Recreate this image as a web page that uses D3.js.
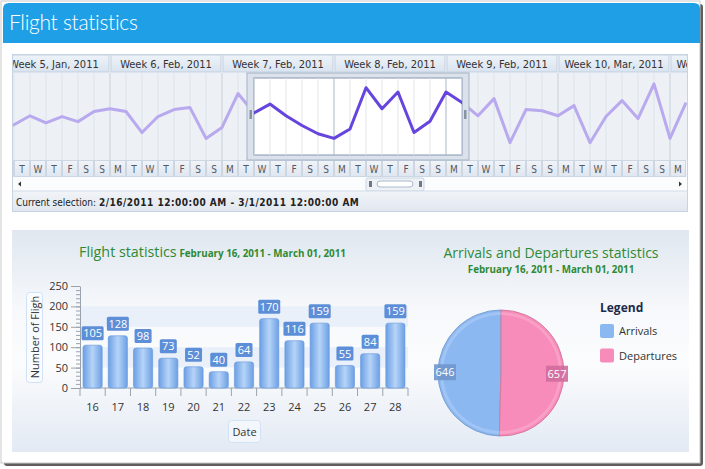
<!DOCTYPE html>
<html>
<head>
<meta charset="utf-8">
<script src="https://cdn.jsdelivr.net/npm/d3@7"></script>
<style>
  body { margin: 0; background: #fff; }
  svg { display: block; }
  .tl { font-family: "DejaVu Sans Condensed", "DejaVu Sans", sans-serif; }
  .ui { font-family: "Open Sans", "Noto Sans", sans-serif; }
</style>
</head>
<body>
<svg id="chart" width="705" height="469"></svg>
<script>
// ---- data ----
const weekLabels = ["Week 5, Jan, 2011", "Week 6, Feb, 2011", "Week 7, Feb, 2011", "Week 8, Feb, 2011",
                    "Week 9, Feb, 2011", "Week 10, Mar, 2011", "Week 11, Mar, 2011"];
const weekStarts = ["2011-01-31", "2011-02-07", "2011-02-14", "2011-02-21", "2011-02-28", "2011-03-07", "2011-03-14"];
const dayLetters = ["M", "T", "W", "T", "F", "S", "S"];
const timelineStart = "2011-01-31";
// one value per day, Jan 31 .. Mar 15
const timelineValues = [70, 75, 98, 80, 96, 83, 109, 116, 109, 55, 96, 114, 119, 40, 68, 155,
                        105, 128, 98, 73, 52, 40, 64, 170, 116, 159, 55, 84, 159,
                        132, 98, 142, 29, 114, 111, 98, 124, 29, 96, 137, 91, 180, 40, 132];
const selectionRange = ["2011-02-16", "2011-03-01"];
const selectionText = "2/16/2011 12:00:00 AM - 3/1/2011 12:00:00 AM";

const barDays = ["16", "17", "18", "19", "20", "21", "22", "23", "24", "25", "26", "27", "28"];
const barValues = [105, 128, 98, 73, 52, 40, 64, 170, 116, 159, 55, 84, 159];
const yTicks = [0, 50, 100, 150, 200, 250];

const pieLabels = ["Arrivals", "Departures"];
const pieValues = [646, 657];
const pieColors = ["#8cb8f2", "#f78bb9"];
const pieLabelColors = ["#6f97cc", "#d06b9f"];

const subtitle = "February 16, 2011 - March 01, 2011";

// ---- page frame ----
const svg = d3.select("#chart");
const parse = d3.utcParse("%Y-%m-%d");
const defs = svg.append("defs");

svg.append("rect").attr("x", 4).attr("y", 4).attr("width", 699).attr("height", 462)
    .attr("rx", 3).attr("fill", "#5e5e5e");
svg.append("rect").attr("x", 1).attr("y", 1).attr("width", 699).attr("height", 462)
    .attr("fill", "#fff").attr("stroke", "#c9c9c9");

svg.append("path")
    .attr("d", "M3,43 V9 Q3,3 9,3 H694 Q700,3 700,9 V43 Z")
    .attr("fill", "#1f9fe6");
svg.append("text")
    .attr("x", 9).attr("y", 30)
    .attr("font-family", "Lato, 'Open Sans', sans-serif")
    .attr("fill", "#fff").attr("font-size", 21).attr("font-weight", 300)
    .attr("letter-spacing", -0.3)
    .text("Flight statistics");

// ---- timeline ----
const tl = {left: 12, right: 688, top: 54, headBottom: 73, plotBottom: 160, dayBottom: 177, scrollBottom: 191, bottom: 212};

const grad = (id, stops, vertical = true) => {
    const g = defs.append("linearGradient").attr("id", id)
        .attr("x1", 0).attr("y1", 0).attr("x2", vertical ? 0 : 1).attr("y2", vertical ? 1 : 0);
    stops.forEach(([o, c]) => g.append("stop").attr("offset", o).attr("stop-color", c));
};
grad("headGrad", [[0, "#eef3f9"], [1, "#d9e3ef"]]);
grad("dayGrad", [[0, "#f1f4f8"], [1, "#dfe6ef"]]);
grad("selGrad", [[0, "#f1f4f8"], [1, "#e1e7ef"]]);
grad("panelGrad", [[0, "#e0e7f0"], [0.35, "#f6f8fb"], [0.6, "#fbfcfd"], [1, "#e3eaf4"]]);
grad("barGrad", [[0, "#6b9fe5"], [0.5, "#b6d4f7"], [1, "#6b9fe5"]], false);

const t0 = parse(timelineStart);
const x = d3.scaleUtc()
    .domain([t0, d3.utcDay.offset(t0, 49)])
    .range([-2, -2 + 49 * 16]);
const yT = d3.scaleLinear().domain([0, 200]).range([154, 76]);

// nested svg viewport clips the scrolling strip at the control's edges
const timeline = svg.append("svg").attr("class", "tl")
    .attr("x", tl.left).attr("y", tl.top)
    .attr("width", tl.right - tl.left).attr("height", tl.bottom - tl.top)
    .attr("viewBox", `${tl.left} ${tl.top} ${tl.right - tl.left} ${tl.bottom - tl.top}`)
    .attr("overflow", "hidden");
timeline.append("rect")
    .attr("x", tl.left).attr("y", tl.top).attr("width", tl.right - tl.left).attr("height", tl.bottom - tl.top)
    .attr("fill", "#f3f6fa");

const tg = timeline.append("g");

// week header
const weeks = weekStarts.map((d, i) => ({start: parse(d), label: weekLabels[i]}));
tg.selectAll(".week").data(weeks).join("rect")
    .attr("x", d => x(d.start) + 1).attr("y", tl.top + 1)
    .attr("width", d => x(d3.utcDay.offset(d.start, 7)) - x(d.start) - 2)
    .attr("height", tl.headBottom - tl.top - 2)
    .attr("fill", "url(#headGrad)").attr("stroke", "#c4d1e0");
tg.selectAll(".weekLabel").data(weeks).join("text")
    .attr("x", d => (x(d.start) + x(d3.utcDay.offset(d.start, 7))) / 2)
    .attr("y", tl.top + 14)
    .attr("text-anchor", "middle").attr("font-size", 11).attr("fill", "#333")
    .text(d => d.label);

// plot area
tg.append("rect").attr("x", tl.left).attr("y", tl.headBottom)
    .attr("width", tl.right - tl.left).attr("height", tl.plotBottom - tl.headBottom)
    .attr("fill", "#edf0f5");
const days = d3.utcDay.range(x.domain()[0], x.domain()[1]).filter(d => x(d) < tl.right - 4);
tg.selectAll(".grid").data(days).join("line")
    .attr("x1", d => x(d)).attr("x2", d => x(d))
    .attr("y1", tl.headBottom).attr("y2", tl.plotBottom)
    .attr("stroke", d => d.getUTCDay() === 1 ? "#c6d0dc" : "#dde3eb");

const lineGen = d3.line()
    .x((d, i) => x(d3.utcDay.offset(t0, i)))
    .y(d => yT(d));
tg.append("path").datum(timelineValues)
    .attr("d", lineGen).attr("fill", "none")
    .attr("stroke", "#b9a9ee").attr("stroke-width", 3).attr("stroke-linejoin", "round");

// day letters
tg.selectAll(".day").data(days).join("rect")
    .attr("x", d => x(d) + 0.5).attr("y", tl.plotBottom + 0.5)
    .attr("width", 15).attr("height", tl.dayBottom - tl.plotBottom - 1)
    .attr("fill", "url(#dayGrad)").attr("stroke", "#cdd7e3");
tg.selectAll(".dayLabel").data(days).join("text")
    .attr("x", d => x(d) + 8).attr("y", tl.plotBottom + 12.5)
    .attr("text-anchor", "middle").attr("font-size", 10).attr("fill", "#505a66")
    .text(d => dayLetters[(d.getUTCDay() + 6) % 7]);

// selection window
const s0 = x(parse(selectionRange[0])), s1 = x(parse(selectionRange[1]));
tg.append("rect").attr("x", s0 - 7).attr("y", tl.headBottom).attr("width", s1 - s0 + 14)
    .attr("height", tl.plotBottom - tl.headBottom)
    .attr("fill", "#dbe2eb").attr("stroke", "#a3b2c6");
tg.append("rect").attr("x", s0).attr("y", tl.headBottom + 5).attr("width", s1 - s0)
    .attr("height", tl.plotBottom - tl.headBottom - 10)
    .attr("fill", "#fff").attr("stroke", "#8596b0");
defs.append("clipPath").attr("id", "selClip").append("rect")
    .attr("x", s0).attr("y", tl.headBottom + 5).attr("width", s1 - s0).attr("height", tl.plotBottom - tl.headBottom - 10);
const sel = tg.append("g").attr("clip-path", "url(#selClip)");
sel.selectAll("line").data(days).join("line")
    .attr("x1", d => x(d)).attr("x2", d => x(d))
    .attr("y1", tl.headBottom + 5).attr("y2", tl.plotBottom - 5)
    .attr("stroke", d => d.getUTCDay() === 1 ? "#aab6c6" : "#e1e5ea");
sel.append("path").datum(timelineValues)
    .attr("d", lineGen).attr("fill", "none")
    .attr("stroke", "#6644de").attr("stroke-width", 3).attr("stroke-linejoin", "round");
[s0 - 4.5, s1 + 2].forEach(hx => {
    tg.append("rect").attr("x", hx).attr("y", 110).attr("width", 2.5).attr("height", 9)
        .attr("fill", "#8792a3");
});

// scroll bar
timeline.append("rect").attr("x", tl.left + 0.5).attr("y", tl.dayBottom)
    .attr("width", tl.right - tl.left - 1).attr("height", tl.scrollBottom - tl.dayBottom)
    .attr("fill", "#fbfcfe");
timeline.append("path").attr("d", "M18,184 L21,181.5 L21,186.5 Z").attr("fill", "#333");
timeline.append("path").attr("d", "M682,184 L679,181.5 L679,186.5 Z").attr("fill", "#333");
timeline.append("rect").attr("x", 366).attr("y", 178).attr("width", 58).attr("height", 13)
    .attr("rx", 2).attr("fill", "#eef2f7").attr("stroke", "#c9d4e2");
timeline.append("rect").attr("x", 377).attr("y", 181).attr("width", 36).attr("height", 6)
    .attr("rx", 3).attr("fill", "#fff").attr("stroke", "#a9b8cc");
[369, 419].forEach(gx => {
    timeline.append("rect").attr("x", gx).attr("y", 181).attr("width", 3).attr("height", 6).attr("fill", "#6d7888");
});

// current selection
timeline.append("rect").attr("x", tl.left + 0.5).attr("y", tl.scrollBottom)
    .attr("width", tl.right - tl.left - 1).attr("height", tl.bottom - tl.scrollBottom - 0.5)
    .attr("fill", "url(#selGrad)");
timeline.append("line").attr("x1", tl.left).attr("x2", tl.right)
    .attr("y1", tl.scrollBottom).attr("y2", tl.scrollBottom).attr("stroke", "#d3dce7");
const cs = timeline.append("text").attr("x", 16).attr("y", 205.5).attr("font-size", 10).attr("fill", "#222");
cs.append("tspan").text("Current selection: ");
cs.append("tspan").attr("font-weight", "bold").attr("letter-spacing", 0.5).text(selectionText);

// outline of the whole control
svg.append("rect")
    .attr("x", tl.left + 0.5).attr("y", tl.top + 0.5).attr("width", tl.right - tl.left - 1).attr("height", tl.bottom - tl.top - 1)
    .attr("fill", "none").attr("stroke", "#c7d3e1");

// ---- bottom panel ----
svg.append("rect").attr("x", 12).attr("y", 230).attr("width", 677).attr("height", 222)
    .attr("fill", "url(#panelGrad)");

// bar chart
const bar = svg.append("g").attr("class", "ui");
const xB = d3.scaleBand().domain(barDays).range([80, 408]).paddingInner(0.24).paddingOuter(0.12);
const yB = d3.scaleLinear().domain([0, 250]).range([388, 286]);

const title1 = bar.append("text").attr("x", 79).attr("y", 257).attr("fill", "#2e8a34");
title1.append("tspan").attr("font-size", 14.3).text("Flight statistics ");
title1.append("tspan").attr("font-size", 9.8).attr("font-weight", "bold").attr("dx", -1).text(subtitle);

[[50, 100], [150, 200]].forEach(([a, b]) => {
    bar.append("rect").attr("x", 80).attr("y", yB(b)).attr("width", 328).attr("height", yB(a) - yB(b))
        .attr("fill", "#e6eef9").attr("opacity", 0.8);
});

bar.append("g").attr("transform", "translate(80,0)")
    .call(d3.axisLeft(yB).tickValues(d3.range(0, 251, 10)).tickSize(4).tickFormat(""))
    .call(g => g.select(".domain").remove())
    .call(g => g.selectAll("line").attr("stroke", "#9aa3ad"));
bar.append("g").attr("transform", "translate(80,0)")
    .call(d3.axisLeft(yB).tickValues(yTicks).tickSize(9).tickSizeOuter(0).tickPadding(3))
    .call(g => g.select(".domain").attr("stroke", "#9aa3ad"))
    .call(g => g.selectAll("line").attr("stroke", "#9aa3ad"))
    .call(g => g.selectAll("text").attr("font-family", "Open Sans, Noto Sans, sans-serif")
        .attr("font-size", 11).attr("fill", "#333"));

const xAxis = bar.append("g").attr("transform", "translate(0,388)");
xAxis.append("line").attr("x1", 80).attr("x2", 408).attr("stroke", "#9aa3ad");
const bounds = barDays.map(d => xB(d) - xB.step() * xB.paddingInner() / 2).concat([408]);
xAxis.selectAll(".tick").data(bounds).join("line")
    .attr("x1", d => d).attr("x2", d => d).attr("y1", 0).attr("y2", 8).attr("stroke", "#9aa3ad");
xAxis.selectAll(".lab").data(barDays).join("text")
    .attr("x", d => xB(d) + xB.bandwidth() / 2).attr("y", 23)
    .attr("text-anchor", "middle").attr("font-size", 11).attr("fill", "#333")
    .text(d => d);

bar.selectAll(".bar").data(barValues).join("rect")
    .attr("x", (d, i) => xB(barDays[i])).attr("y", d => yB(d))
    .attr("width", xB.bandwidth()).attr("height", d => yB(0) - yB(d))
    .attr("rx", 2.5)
    .attr("fill", "url(#barGrad)").attr("stroke", "#6396dc").attr("stroke-width", 0.6);

const lbl = bar.selectAll(".vlab").data(barValues).join("g")
    .attr("transform", (d, i) => `translate(${xB(barDays[i]) + xB.bandwidth() / 2},${yB(d) - 5})`);
lbl.append("rect")
    .attr("x", d => String(d).length > 2 ? -11 : -8.5).attr("y", -14)
    .attr("width", d => String(d).length > 2 ? 22 : 17).attr("height", 14)
    .attr("rx", 1.5).attr("fill", "#5d8fd8");
lbl.append("text").attr("y", -3).attr("text-anchor", "middle")
    .attr("font-size", 11).attr("fill", "#fff").text(d => d);

// axis titles
bar.append("rect").attr("x", 26.5).attr("y", 292.5).attr("width", 16).attr("height", 90)
    .attr("rx", 3).attr("fill", "#f8fbff").attr("stroke", "#d2e1f3");
bar.append("text").attr("transform", "translate(38.5,337) rotate(-90)")
    .attr("text-anchor", "middle").attr("font-size", 11).attr("fill", "#333")
    .text("Number of Fligh");
bar.append("rect").attr("x", 228.5).attr("y", 420.5).attr("width", 32).attr("height", 22)
    .attr("rx", 3).attr("fill", "#f3f7fc").attr("stroke", "#d2e1f3");
bar.append("text").attr("x", 244.5).attr("y", 436).attr("text-anchor", "middle")
    .attr("font-size", 11).attr("fill", "#333").text("Date");

// pie chart
const pieG = svg.append("g").attr("class", "ui");
pieG.append("text").attr("x", 551).attr("y", 258).attr("text-anchor", "middle")
    .attr("font-size", 14).attr("fill", "#2e8a34").text("Arrivals and Departures statistics");
pieG.append("text").attr("x", 551).attr("y", 273).attr("text-anchor", "middle")
    .attr("font-size", 9.8).attr("font-weight", "bold").attr("fill", "#2e8a34").text(subtitle);

const total = d3.sum(pieValues);
const pie = d3.pie().sort(null)
    .startAngle(-2 * Math.PI * pieValues[0] / total)
    .endAngle(2 * Math.PI * (1 - pieValues[0] / total));
const arcs = pie(pieValues);
const R = 63;
const arc = d3.arc().innerRadius(0).outerRadius(R);
const ring = d3.arc().innerRadius(R - 5).outerRadius(R - 2);
const labelArc = d3.arc().innerRadius(56).outerRadius(56);
const pc = pieG.append("g").attr("transform", "translate(501,373)");
pc.selectAll(".slice").data(arcs).join("path")
    .attr("d", arc).attr("fill", (d, i) => pieColors[i])
    .attr("stroke", (d, i) => d3.color(pieColors[i]).darker(0.4)).attr("stroke-width", 1);
pc.selectAll(".ring").data(arcs).join("path")
    .attr("d", ring).attr("fill", "#fff").attr("opacity", 0.18);
const pl = pc.selectAll(".plab").data(arcs).join("g")
    .attr("transform", d => `translate(${labelArc.centroid(d)})`);
pl.append("rect").attr("x", -11).attr("y", -8).attr("width", 22).attr("height", 16)
    .attr("fill", (d, i) => pieLabelColors[i]).attr("opacity", 0.9);
pl.append("text").attr("y", 4).attr("text-anchor", "middle")
    .attr("font-size", 11).attr("fill", "#fff").text(d => d.data);

// legend
const lg = pieG.append("g").attr("transform", "translate(600,0)");
lg.append("text").attr("x", 0).attr("y", 312).attr("font-size", 12).attr("font-weight", "bold")
    .attr("fill", "#1c2b4b").text("Legend");
const li = lg.selectAll(".li").data(pieLabels).join("g")
    .attr("transform", (d, i) => `translate(0,${324 + i * 24.5})`);
li.append("rect").attr("width", 14).attr("height", 14).attr("rx", 2)
    .attr("fill", (d, i) => pieColors[i]);
li.append("text").attr("x", 19).attr("y", 11).attr("font-size", 11).attr("fill", "#333").text(d => d);
</script>
</body>
</html>
